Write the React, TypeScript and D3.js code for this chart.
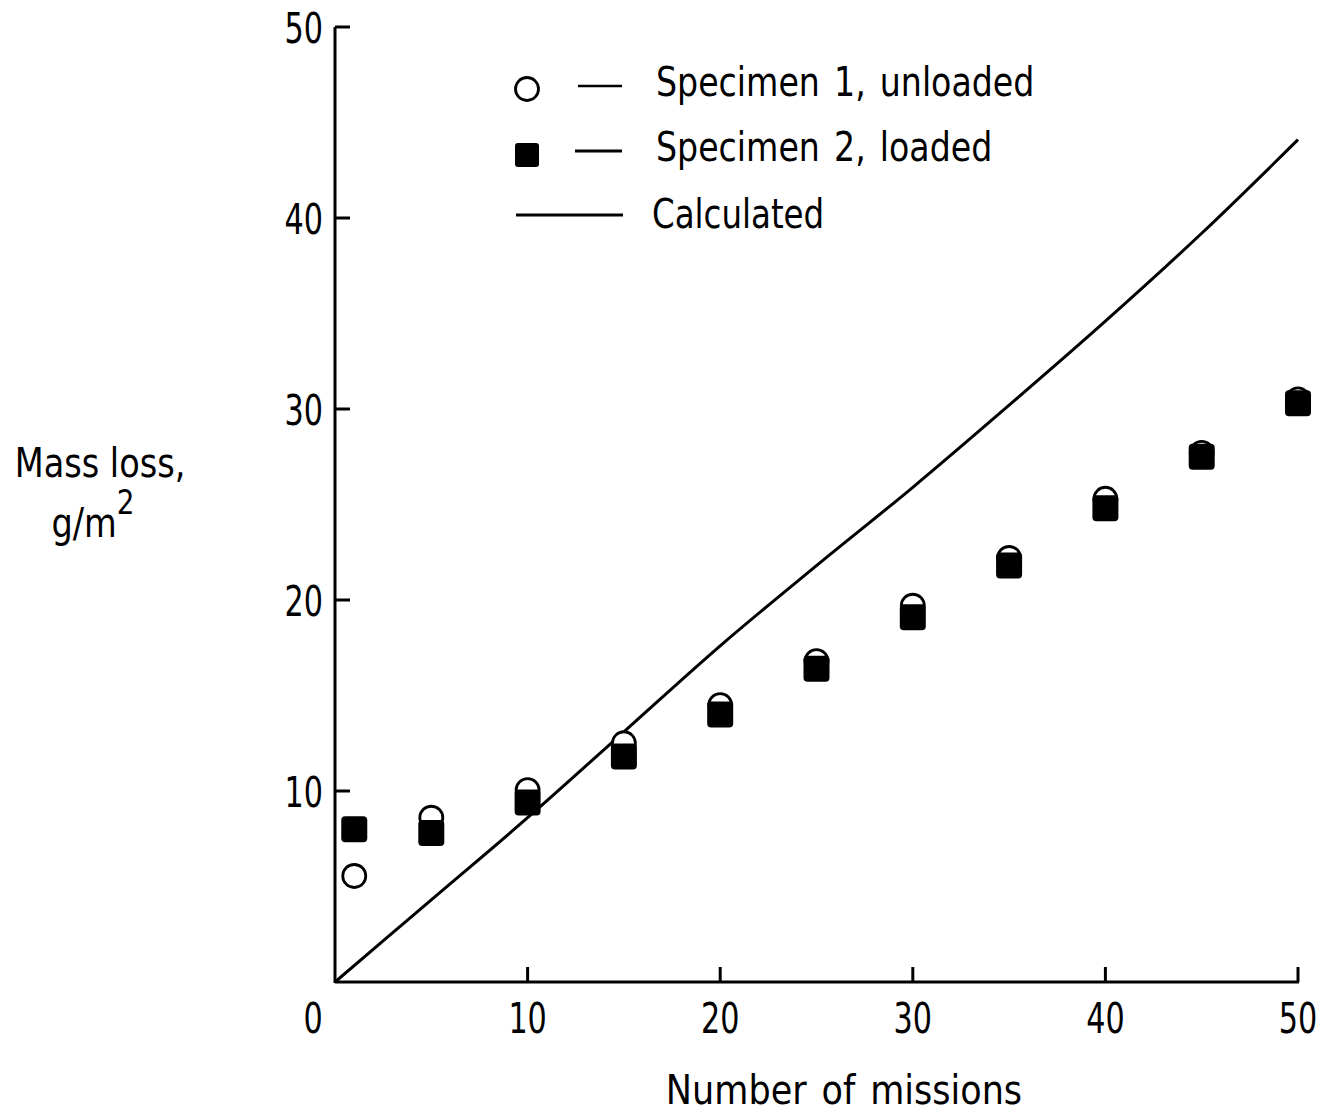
import React, { useEffect, useRef } from "react";
import * as d3 from "d3";

// Mass loss versus number of missions
const missions = [1, 5, 10, 15, 20, 25, 30, 35, 40, 45, 50];
const specimen1Unloaded = [5.55, 8.6, 10.05, 12.5, 14.5, 16.8, 19.7, 22.2, 25.3, 27.7, 30.5];
const specimen2Loaded = [8.0, 7.8, 9.4, 11.8, 14.0, 16.4, 19.1, 21.8, 24.8, 27.5, 30.3];

const calcMissions = [0, 5, 10, 15, 20, 25, 30, 35, 40, 45, 50];
const calcMassLoss = [0, 4.3, 8.6, 13.1, 17.6, 21.8, 25.9, 30.2, 34.6, 39.2, 44.1];

const xTicks = [0, 10, 20, 30, 40, 50];
const yTicks = [10, 20, 30, 40, 50];

const FONT = "'DejaVu Sans Condensed', 'DejaVu Sans', sans-serif";

type Sel = d3.Selection<SVGGElement, unknown, null, undefined>;

// narrow lettering: text placed at (x, y) and squeezed horizontally
function label(parent: Sel, x: number, y: number, str: string, size: number, sx: number, anchor = "start") {
  return parent.append("text")
    .attr("transform", `translate(${x},${y}) scale(${sx},1)`)
    .attr("text-anchor", anchor)
    .attr("font-family", FONT)
    .attr("font-size", size)
    .attr("fill", "#000")
    .text(str);
}

export default function App() {
  const ref = useRef<SVGSVGElement>(null);

  useEffect(() => {
    const root = d3.select(ref.current);
    root.selectAll("*").remove();
    const g = root.append("g") as unknown as Sel;

    const x = d3.scaleLinear().domain([0, 50]).range([335, 1298]);
    const y = d3.scaleLinear().domain([0, 50]).range([982, 27]);

    // axes
    g.append("line").attr("x1", x(0)).attr("x2", x(0)).attr("y1", y(0) + 1).attr("y2", y(50))
      .attr("stroke", "#000").attr("stroke-width", 3);
    g.append("line").attr("x1", x(0)).attr("x2", x(50) + 1).attr("y1", y(0)).attr("y2", y(0))
      .attr("stroke", "#000").attr("stroke-width", 3);

    // ticks pointing inward
    yTicks.forEach((t) => {
      g.append("line").attr("x1", x(0)).attr("x2", x(0) + 15).attr("y1", y(t)).attr("y2", y(t))
        .attr("stroke", "#000").attr("stroke-width", 3);
    });
    xTicks.filter((t) => t > 0).forEach((t) => {
      g.append("line").attr("x1", x(t)).attr("x2", x(t)).attr("y1", y(0)).attr("y2", y(0) - 15)
        .attr("stroke", "#000").attr("stroke-width", 3);
    });

    // tick labels
    xTicks.forEach((t) => {
      label(g, t === 0 ? x(t) - 22 : x(t), 1033, String(t), 42, 0.8, "middle");
    });
    yTicks.forEach((t) => {
      label(g, 323, y(t) + 16, String(t), 42, 0.8, "end");
    });

    // axis titles
    label(g, 100, 477, "Mass loss,", 41, 0.91, "middle");
    const unit = label(g, 93, 537, "", 41, 0.91, "middle");
    unit.append("tspan").text("g/m");
    unit.append("tspan").attr("dy", -23).attr("font-size", 34).text("2");
    label(g, 844, 1104, "Number of missions", 41, 0.95, "middle").attr("word-spacing", 4);

    // calculated curve
    const line = d3.line<number>()
      .x((_, i) => x(calcMissions[i]))
      .y((d) => y(d))
      .curve(d3.curveMonotoneX);
    g.append("path").datum(calcMassLoss).attr("d", line)
      .attr("fill", "none").attr("stroke", "#000").attr("stroke-width", 3);

    // specimen 1: open circles
    g.selectAll(".c1").data(specimen1Unloaded).enter().append("circle")
      .attr("cx", (_, i) => x(missions[i]))
      .attr("cy", (d) => y(d))
      .attr("r", 11.5)
      .attr("fill", "#fff").attr("stroke", "#000").attr("stroke-width", 2.8);

    // specimen 2: filled squares
    const s = 26;
    g.selectAll(".s2").data(specimen2Loaded).enter().append("rect")
      .attr("x", (_, i) => x(missions[i]) - s / 2)
      .attr("y", (d) => y(d) - s / 2)
      .attr("width", s).attr("height", s).attr("rx", 4)
      .attr("fill", "#000");

    // legend
    g.append("circle").attr("cx", 527).attr("cy", 89).attr("r", 11.5)
      .attr("fill", "#fff").attr("stroke", "#000").attr("stroke-width", 2.8);
    g.append("line").attr("x1", 578).attr("x2", 622).attr("y1", 86).attr("y2", 86)
      .attr("stroke", "#000").attr("stroke-width", 2.5);
    label(g, 656, 96, "Specimen 1, unloaded", 41, 0.9).attr("word-spacing", 4);

    g.append("rect").attr("x", 515).attr("y", 143).attr("width", 24).attr("height", 24).attr("rx", 3)
      .attr("fill", "#000");
    g.append("line").attr("x1", 575).attr("x2", 622).attr("y1", 151).attr("y2", 151)
      .attr("stroke", "#000").attr("stroke-width", 3);
    label(g, 656, 161, "Specimen 2, loaded", 41, 0.9).attr("word-spacing", 4);

    g.append("line").attr("x1", 516).attr("x2", 623).attr("y1", 215).attr("y2", 215)
      .attr("stroke", "#000").attr("stroke-width", 3);
    label(g, 652, 228, "Calculated", 41, 0.88);
  }, []);

  return (
    <svg ref={ref} width={1329} height={1116}
      style={{ display: "block", position: "absolute", left: 0, top: 0, background: "#fff" }} />
  );
}
